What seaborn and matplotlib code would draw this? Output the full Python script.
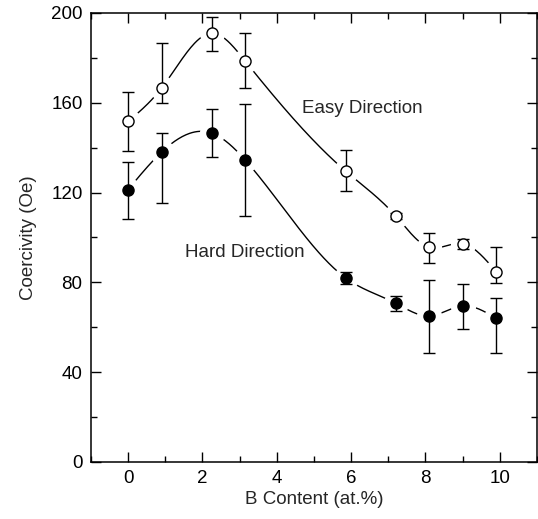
import numpy as np
import pandas as pd
import seaborn as sns
import matplotlib.pyplot as plt
from matplotlib.ticker import MultipleLocator

# B content (at.%)
b_content = [0, 0.9, 2.25, 3.15, 5.85, 7.2, 8.1, 9.0, 9.9]

# Easy direction coercivity (Oe) with error bar ends
easy_hc = [151.7, 166.5, 191.0, 178.6, 129.6, 109.6, 95.6, 97.3, 84.8]
easy_hi = [165.0, 186.5, 198.0, 191.0, 139.0, 111.0, 102.2, 99.3, 95.9]
easy_lo = [138.7, 160.0, 183.0, 166.6, 120.7, 108.2, 88.8, 95.0, 79.6]

# Hard direction coercivity (Oe) with error bar ends
hard_hc = [121.3, 138.0, 146.5, 134.5, 82.0, 70.7, 65.0, 69.5, 64.0]
hard_hi = [133.8, 146.7, 157.0, 159.5, 84.6, 73.9, 81.0, 79.3, 73.2]
hard_lo = [108.3, 115.3, 135.8, 109.6, 79.3, 67.3, 48.6, 59.4, 48.5]


def spline(x, y, n=300):
    # natural cubic spline through the points, for the guide-to-the-eye curve
    x = np.asarray(x, float)
    y = np.asarray(y, float)
    h = np.diff(x)
    m = len(x)
    A = np.zeros((m, m))
    r = np.zeros(m)
    A[0, 0] = A[-1, -1] = 1
    for i in range(1, m - 1):
        A[i, i - 1] = h[i - 1]
        A[i, i] = 2 * (h[i - 1] + h[i])
        A[i, i + 1] = h[i]
        r[i] = 6 * ((y[i + 1] - y[i]) / h[i] - (y[i] - y[i - 1]) / h[i - 1])
    M = np.linalg.solve(A, r)
    xs = np.linspace(x[0], x[-1], n)
    k = np.clip(np.searchsorted(x, xs) - 1, 0, m - 2)
    t0 = x[k + 1] - xs
    t1 = xs - x[k]
    hk = h[k]
    ys = (M[k] * t0**3 + M[k + 1] * t1**3) / (6 * hk) \
        + (y[k] / hk - M[k] * hk / 6) * t0 + (y[k + 1] / hk - M[k + 1] * hk / 6) * t1
    return pd.DataFrame({"x": xs, "y": ys})


sns.set_style("ticks")
plt.rcParams["font.family"] = ["Liberation Sans", "DejaVu Sans"]

fig = plt.figure(figsize=(5.38, 5.19), dpi=100)
ax = fig.add_axes([0.169, 0.110, 0.829, 0.865])

for yv, lo, hi, face in [(easy_hc, easy_lo, easy_hi, "white"),
                         (hard_hc, hard_lo, hard_hi, "black")]:
    curve = spline(b_content, yv)
    sns.lineplot(data=curve, x="x", y="y", color="black", lw=1.0, ax=ax, zorder=1)
    # white halo so the curve breaks around each marker
    ax.scatter(b_content, yv, s=330, color="white", zorder=2, linewidths=0)
    yerr = [np.array(yv) - np.array(lo), np.array(hi) - np.array(yv)]
    ax.errorbar(b_content, yv, yerr=yerr, fmt="none", ecolor="black",
                elinewidth=1.0, capsize=4, capthick=1.0, zorder=3)
    ax.plot(b_content, yv, "o", ms=8, mfc=face, mec="black", mew=1.0, zorder=4)

ax.text(4.69, 157.5, "Easy Direction", fontsize=13.5, va="center", ha="left")
ax.text(1.53, 93.5, "Hard Direction", fontsize=13.5, va="center", ha="left")

ax.set_xlim(-1, 11)
ax.set_ylim(0, 200)
ax.xaxis.set_major_locator(MultipleLocator(2))
ax.xaxis.set_minor_locator(MultipleLocator(1))
ax.yaxis.set_major_locator(MultipleLocator(40))
ax.yaxis.set_minor_locator(MultipleLocator(20))
ax.tick_params(which="both", direction="in", top=True, right=True,
               labelsize=13.5, width=1.0, color="black", labelcolor="black")
ax.tick_params(which="major", length=7, pad=6)
ax.tick_params(which="minor", length=4)
for s in ax.spines.values():
    s.set_linewidth(1.1)
    s.set_color("black")

ax.set_xlabel("B Content (at.%)", fontsize=13.5, labelpad=3)
ax.set_ylabel("Coercivity (Oe)", fontsize=13.5, labelpad=10)

fig.savefig("out.png", dpi=100)
